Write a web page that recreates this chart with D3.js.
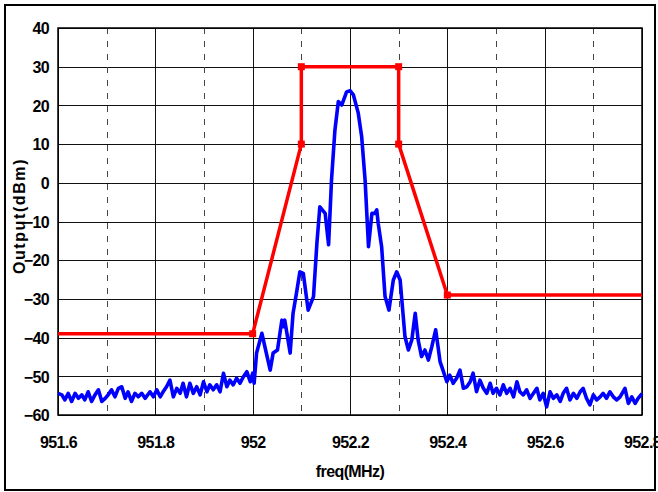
<!DOCTYPE html>
<html>
<head>
<meta charset="utf-8">
<script src="https://cdn.jsdelivr.net/npm/d3@7"></script>
<style>
  html, body { margin: 0; padding: 0; background: #fff; }
  svg { display: block; }
  text { font-family: "Liberation Sans", Arial, sans-serif; font-weight: bold; fill: #000; }
</style>
</head>
<body>
<svg id="chart" width="658" height="492"></svg>
<script>
// ---- data ----
const xTicks = [951.6, 951.8, 952.0, 952.2, 952.4, 952.6, 952.8];
const xTickLabels = ["951.6", "951.8", "952", "952.2", "952.4", "952.6", "952.8"];
const xMinorGrid = [951.7, 951.9, 952.1, 952.3, 952.5, 952.7];
const yTicks = [-60, -50, -40, -30, -20, -10, 0, 10, 20, 30, 40];

const maskFreq  = [951.6, 952.0, 952.1, 952.1, 952.3, 952.3, 952.4, 952.8];
const maskLevel = [-39, -39, 10, 30, 30, 10, -29, -29];

const specFreq = [
  951.600, 951.608, 951.614, 951.621, 951.628, 951.635, 951.642, 951.649, 951.655, 951.662,
  951.669, 951.676, 951.683, 951.690, 951.697, 951.703, 951.710, 951.717, 951.724, 951.731,
  951.738, 951.744, 951.751, 951.758, 951.765, 951.772, 951.779, 951.789, 951.796, 951.803,
  951.810, 951.816, 951.823, 951.830, 951.837, 951.844, 951.851, 951.857, 951.864, 951.871,
  951.878, 951.885, 951.892, 951.899, 951.906, 951.912, 951.919, 951.926, 951.933, 951.940,
  951.947, 951.953, 951.960, 951.967, 951.974, 951.981, 951.988, 951.995, 952.000, 952.003,
  952.008, 952.019, 952.025, 952.036, 952.042, 952.051, 952.060, 952.063, 952.066, 952.077,
  952.083, 952.090, 952.097, 952.104, 952.114, 952.125, 952.132, 952.138, 952.149, 952.156,
  952.162, 952.169, 952.176, 952.183, 952.193, 952.200, 952.207, 952.217, 952.224, 952.231,
  952.238, 952.245, 952.251, 952.255, 952.258, 952.265, 952.272, 952.280, 952.289, 952.296,
  952.303, 952.313, 952.320, 952.327, 952.334, 952.340, 952.347, 952.354, 952.361, 952.368,
  952.376, 952.381, 952.385, 952.392, 952.399, 952.405, 952.412, 952.419, 952.426, 952.433,
  952.440, 952.447, 952.453, 952.460, 952.467, 952.474, 952.481, 952.488, 952.494, 952.501,
  952.508, 952.515, 952.522, 952.529, 952.536, 952.543, 952.549, 952.556, 952.563, 952.570,
  952.577, 952.584, 952.590, 952.597, 952.604, 952.611, 952.618, 952.625, 952.632, 952.638,
  952.645, 952.652, 952.659, 952.666, 952.673, 952.679, 952.686, 952.693, 952.700, 952.707,
  952.714, 952.720, 952.727, 952.734, 952.741, 952.748, 952.755, 952.765, 952.772, 952.779,
  952.786, 952.792, 952.800
];
const specPower = [
  -54.4, -54.8, -56.1, -54.4, -56.5, -54.4, -55.7, -54.8, -56.1, -54.0,
  -56.5, -54.8, -53.5, -56.5, -55.7, -54.8, -53.5, -55.3, -53.1, -52.7,
  -55.7, -54.0, -56.5, -54.4, -55.3, -54.4, -55.7, -54.0, -55.3, -53.5,
  -55.3, -54.0, -52.7, -51.0, -55.3, -53.1, -54.4, -51.8, -55.3, -51.8,
  -54.4, -52.7, -54.8, -51.4, -54.0, -52.2, -53.5, -52.2, -54.0, -49.2,
  -52.7, -51.0, -52.2, -50.5, -51.8, -50.1, -48.8, -51.4, -49.2, -51.8,
  -44.0, -38.9, -42.3, -48.4, -44.0, -43.2, -35.5, -37.2, -35.5, -44.0,
  -33.7, -28.5, -23.0, -23.4, -32.9, -29.4, -15.6, -6.2, -7.9, -16.0,
  0.7, 13.6, 21.0, 20.1, 23.5, 23.8, 22.7, 18.0, 11.9, 0.7,
  -16.5, -7.9, -7.9, -7.0, -10.5, -16.5, -29.4, -32.9, -25.1, -23.0,
  -25.1, -39.8, -43.2, -40.6, -33.7, -40.6, -44.9, -43.2, -45.8, -42.4,
  -38.0, -42.4, -46.2, -48.8, -51.4, -49.7, -51.8, -50.5, -48.4, -53.1,
  -52.7, -51.4, -49.2, -54.0, -51.0, -53.1, -54.4, -51.8, -54.4, -53.1,
  -54.8, -52.2, -54.4, -53.1, -55.3, -51.4, -54.0, -54.8, -53.5, -55.7,
  -54.4, -53.1, -56.1, -54.4, -57.9, -54.0, -55.7, -54.8, -56.5, -54.4,
  -53.1, -56.1, -54.4, -55.7, -54.0, -53.1, -55.7, -57.4, -54.8, -56.1,
  -55.3, -54.4, -55.7, -54.0, -55.3, -56.1, -55.3, -53.1, -57.0, -55.3,
  -57.0, -55.7, -54.5
];

// ---- layout ----
const svg = d3.select("#chart");
const plot = { left: 58, right: 642, top: 28, bottom: 415 };

const x = d3.scaleLinear().domain([951.6, 952.8]).range([plot.left, plot.right]);
const y = d3.scaleLinear().domain([-60, 40]).range([plot.bottom, plot.top]);

// outer frame
svg.append("rect")
  .attr("x", 5).attr("y", 5).attr("width", 650).attr("height", 485)
  .attr("fill", "#fff").attr("stroke", "#000").attr("stroke-width", 2);

// horizontal gridlines
svg.append("g").selectAll("line").data(yTicks).join("line")
  .attr("x1", plot.left).attr("x2", plot.right)
  .attr("y1", d => Math.round(y(d)) + 0.5).attr("y2", d => Math.round(y(d)) + 0.5)
  .attr("stroke", "#111").attr("stroke-width", 1);

// major vertical gridlines
svg.append("g").selectAll("line").data(xTicks).join("line")
  .attr("x1", d => Math.round(x(d)) + 0.5).attr("x2", d => Math.round(x(d)) + 0.5)
  .attr("y1", plot.top).attr("y2", plot.bottom)
  .attr("stroke", "#111").attr("stroke-width", 1);

// dashed minor vertical gridlines
svg.append("g").selectAll("line").data(xMinorGrid).join("line")
  .attr("x1", d => Math.round(x(d)) + 0.5).attr("x2", d => Math.round(x(d)) + 0.5)
  .attr("y1", plot.top).attr("y2", plot.bottom)
  .attr("stroke", "#444").attr("stroke-width", 1).attr("stroke-dasharray", "6,7");

// plot frame
svg.append("rect")
  .attr("x", plot.left).attr("y", plot.top)
  .attr("width", plot.right - plot.left).attr("height", plot.bottom - plot.top)
  .attr("fill", "none").attr("stroke", "#000").attr("stroke-width", 1.5);

// axes (labels only, via d3 axes)
const labelStyle = sel => sel
  .style("font-size", "16px").style("letter-spacing", "-0.6px")
  .style("font-family", "'Liberation Sans', Arial, sans-serif")
  .style("font-weight", "bold").attr("fill", "#000");

const xAxis = d3.axisBottom(x).tickValues(xTicks)
  .tickFormat((d, i) => xTickLabels[i]).tickSize(0).tickPadding(0);
const gx = svg.append("g").attr("transform", `translate(0,${plot.bottom})`).call(xAxis);
gx.select(".domain").remove();
gx.selectAll("text").attr("dy", null).attr("y", 33).call(labelStyle);

const yAxis = d3.axisLeft(y).tickValues(yTicks).tickFormat(d3.format("d")).tickSize(0).tickPadding(0);
const gy = svg.append("g").attr("transform", `translate(${plot.left - 9},0)`).call(yAxis);
gy.select(".domain").remove();
gy.selectAll("text").attr("dy", "0.36em").call(labelStyle);

// axis titles
svg.append("text").attr("x", (plot.left + plot.right) / 2).attr("y", 477)
  .attr("text-anchor", "middle").call(labelStyle).text("freq(MHz)");
svg.append("text").attr("transform", `translate(25,216) rotate(-90)`)
  .attr("text-anchor", "middle")
  .style("font-size", "16px").style("letter-spacing", "1.6px").text("Output(dBm)");

// spectrum
const spec = specFreq.map((f, i) => ({ f, p: specPower[i] }));
const line = d3.line().x(d => x(d.f)).y(d => y(d.p));
svg.append("path").datum(spec)
  .attr("d", line).attr("fill", "none")
  .attr("stroke", "#0000ff").attr("stroke-width", 3.6).attr("stroke-linejoin", "round");

// mask
const mask = maskFreq.map((f, i) => ({ f, p: maskLevel[i] }));
svg.append("path").datum(mask)
  .attr("d", line).attr("fill", "none")
  .attr("stroke", "#ff0000").attr("stroke-width", 3.5).attr("stroke-linejoin", "miter");
svg.append("g").selectAll("rect").data(mask.slice(1, mask.length - 1)).join("rect")
  .attr("x", d => x(d.f) - 3.5).attr("y", d => y(d.p) - 3.5)
  .attr("width", 7).attr("height", 7).attr("fill", "#ff0000");
</script>
</body>
</html>
